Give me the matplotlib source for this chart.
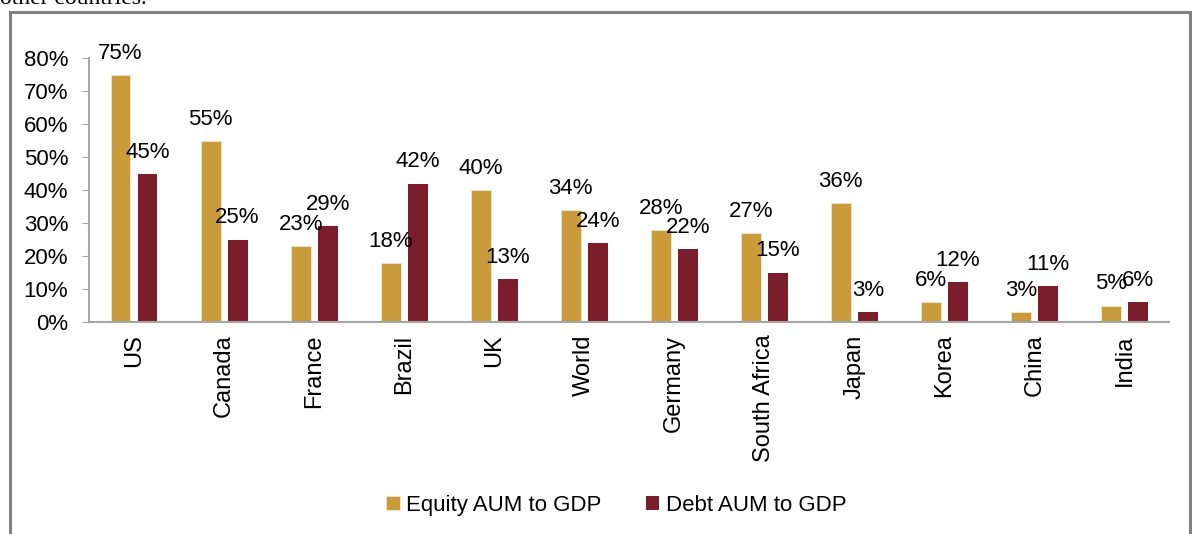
import matplotlib.pyplot as plt
import numpy as np
from matplotlib.patches import Rectangle

plt.rcParams['font.family'] = ['Liberation Sans', 'DejaVu Sans']

countries = ['US', 'Canada', 'France', 'Brazil', 'UK', 'World', 'Germany',
             'South Africa', 'Japan', 'Korea', 'China', 'India']
equity = [75, 55, 23, 18, 40, 34, 28, 27, 36, 6, 3, 5]
debt = [45, 25, 29, 42, 13, 24, 22, 15, 3, 12, 11, 6]
yticks = [0, 10, 20, 30, 40, 50, 60, 70, 80]

gold = '#C99B3B'
maroon = '#7B1D2A'

fig = plt.figure(figsize=(11.97, 5.34), dpi=100)
ax = fig.add_axes([0.0744, 0.397, 0.9026, 0.494])

x = np.arange(len(countries))
w = 0.22
b1 = ax.bar(x - 0.15, equity, w, color=gold, edgecolor='#F3E6C8', linewidth=0.6,
            label='Equity AUM to GDP')
b2 = ax.bar(x + 0.15, debt, w, color=maroon, label='Debt AUM to GDP')

for bars, vals in ((b1, equity), (b2, debt)):
    for r, v in zip(bars, vals):
        ax.annotate(f'{v}%', (r.get_x() + r.get_width() / 2, v),
                    xytext=(0, 8), textcoords='offset points',
                    ha='center', va='bottom', fontsize=16)

ax.set_xlim(-0.5, len(countries) - 0.5)
ax.set_ylim(0, 80)
ax.set_yticks(yticks)
ax.set_yticklabels([f'{t}%' for t in yticks], fontsize=16)
ax.set_xticks(x)
ax.set_xticklabels(countries, rotation=90, fontsize=17)
ax.tick_params(axis='x', length=0, pad=9)
ax.tick_params(axis='y', length=5, color='#A6A6A6', pad=10)
for s in ['top', 'right']:
    ax.spines[s].set_visible(False)
for s in ['left', 'bottom']:
    ax.spines[s].set_color('#A6A6A6')
    ax.spines[s].set_linewidth(1.5)

fig.legend(handles=[b1, b2], loc='center', bbox_to_anchor=(0.515, 0.054),
           ncol=2, frameon=False, fontsize=16, handlelength=0.6,
           handleheight=0.6, handletextpad=0.3, columnspacing=2.0)

# outer frame of the exhibit
fig.patches.append(Rectangle((10 / 1197, -0.05), 1180 / 1197, 1.05 - 12 / 534,
                             transform=fig.transFigure, fill=False,
                             edgecolor='#808080', linewidth=2.2))
fig.text(0.0, 1 - 4 / 534, 'other countries.', family='Liberation Serif',
         fontsize=17, va='baseline', ha='left')

fig.savefig('out.png', dpi=100)
